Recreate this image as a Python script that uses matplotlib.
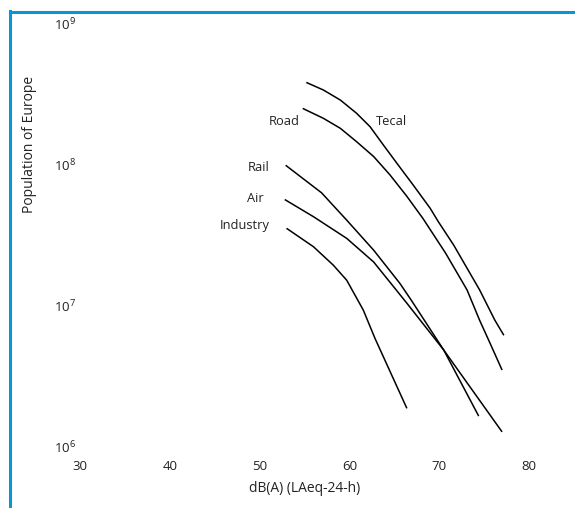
import numpy as np
import matplotlib
matplotlib.use('Agg')
from matplotlib import pyplot as plt
from matplotlib.lines import Line2D
from matplotlib.ticker import FixedLocator, FuncFormatter, NullLocator

# noise level dB(A) LAeq-24h vs population exposed
tecal_db = [55.2, 57.1, 59.0, 60.8, 62.3, 63.8, 65.3, 67.1, 69.0, 69.9, 71.6, 74.5, 76.2, 77.2]
tecal_pop = [3.79e8, 3.35e8, 2.84e8, 2.29e8, 1.84e8, 1.36e8, 1.01e8, 7.1e7, 4.85e7, 3.9e7,
             2.67e7, 1.28e7, 7.8e6, 6.1e6]

road_db = [54.8, 57.1, 59.0, 60.8, 62.7, 64.5, 66.4, 68.2, 70.7, 73.1, 74.5, 75.5, 77.0]
road_pop = [2.48e8, 2.11e8, 1.79e8, 1.44e8, 1.13e8, 8.4e7, 5.9e7, 4.1e7, 2.34e7, 1.28e7,
            7.8e6, 5.65e6, 3.46e6]

rail_db = [52.9, 56.9, 59.7, 62.7, 65.6, 66.9, 70.5, 74.4]
rail_pop = [9.8e7, 6.25e7, 4.0e7, 2.45e7, 1.43e7, 1.08e7, 4.8e6, 1.63e6]

air_db = [52.8, 56.0, 59.7, 62.7, 66.4, 70.5, 77.0]
air_pop = [5.6e7, 4.23e7, 2.97e7, 2.02e7, 1.03e7, 4.8e6, 1.26e6]

industry_db = [53.0, 56.0, 58.2, 59.7, 61.55, 62.85, 66.4]
industry_pop = [3.5e7, 2.59e7, 1.92e7, 1.5e7, 9.2e6, 5.8e6, 1.85e6]

x_ticks = [30, 40, 50, 60, 70, 80]
y_ticks = [1e6, 1e7, 1e8, 1e9]

plt.rcParams['font.family'] = 'Open Sans'
plt.rcParams['mathtext.fontset'] = 'custom'
plt.rcParams['mathtext.rm'] = 'Open Sans'

fig = plt.figure(figsize=(5.75, 5.08), dpi=100)
ax = fig.add_axes([0.1391, 0.1220, 0.7809, 0.8327])

for xs, ys in [(tecal_db, tecal_pop), (road_db, road_pop), (rail_db, rail_pop),
               (air_db, air_pop), (industry_db, industry_pop)]:
    ax.plot(xs, ys, color='black', lw=1.1, solid_capstyle='butt', solid_joinstyle='round')

ax.set_yscale('log')
ax.set_xlim(30, 80)
ax.set_ylim(1e6, 1e9)
ax.xaxis.set_major_locator(FixedLocator(x_ticks))
ax.yaxis.set_major_locator(FixedLocator(y_ticks))
ax.yaxis.set_minor_locator(NullLocator())
ax.yaxis.set_major_formatter(FuncFormatter(lambda v, p: r'$\mathregular{10^{%d}}$' % round(np.log10(v))))
ax.tick_params(axis='both', length=0, labelsize=9.5, colors='#222222')
ax.tick_params(axis='x', pad=10)
ax.tick_params(axis='y', pad=3)
for s in ax.spines.values():
    s.set_visible(False)

ax.set_xlabel('dB(A) (LAeq-24-h)', fontsize=10, color='#222222', labelpad=6)
ax.set_ylabel('Population of Europe', fontsize=10, color='#222222')
ax.yaxis.set_label_coords(-0.096, 0.712)

# curve labels
lab = dict(va='center', fontsize=9.3, color='#222222')
ax.text(54.5, 2.0e8, 'Road', ha='right', **lab)
ax.text(63.0, 2.0e8, 'Tecal', ha='left', **lab)
ax.text(51.1, 9.5e7, 'Rail', ha='right', **lab)
ax.text(50.5, 5.65e7, 'Air', ha='right', **lab)
ax.text(51.1, 3.65e7, 'Industry', ha='right', **lab)

# blue frame on top and left
blue = '#0a96d2'
fig.add_artist(Line2D([9.5 / 575, 1], [1 - 12 / 508] * 2, color=blue, lw=2.2, transform=fig.transFigure))
fig.add_artist(Line2D([10 / 575] * 2, [0, 1 - 11 / 508], color=blue, lw=2.2, transform=fig.transFigure))

plt.savefig('out.png', dpi=100)
